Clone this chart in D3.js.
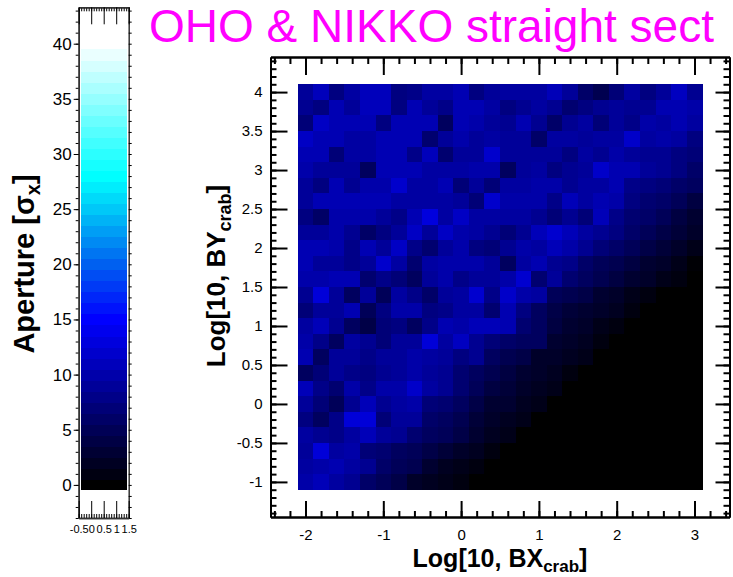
<!DOCTYPE html>
<html>
<head>
<meta charset="utf-8">
<script src="https://cdn.jsdelivr.net/npm/d3@7"></script>
<style>
  body { margin: 0; background: #fff; }
  svg { display: block; font-family: "Liberation Sans", Arial, sans-serif; }
</style>
</head>
<body>
<script>
// bin centres
var logBX = [-2.0, -1.8, -1.6, -1.4, -1.2, -1.0, -0.8, -0.6, -0.4, -0.2, 0.0, 0.2, 0.4,
             0.6, 0.8, 1.0, 1.2, 1.4, 1.6, 1.8, 2.0, 2.2, 2.4, 2.6, 2.8, 3.0];
var logBY = [4.0, 3.8, 3.6, 3.4, 3.2, 3.0, 2.8, 2.6, 2.4, 2.2, 2.0, 1.8, 1.6,
             1.4, 1.2, 1.0, 0.8, 0.6, 0.4, 0.2, 0.0, -0.2, -0.4, -0.6, -0.8, -1.0];

// aperture [sigma_x], one row per logBY (top to bottom), one column per logBX
var aperture = [
  [9, 11, 7.5, 9.5, 11, 11, 7.5, 8, 9.5, 9.5, 10.5, 7.5, 9, 9.4, 9.4, 9.4, 10.8, 9, 6.1, 4.7, 7, 9.4, 7.5, 9, 11.3, 8.5],
  [8.5, 7.5, 10.5, 9, 11, 11, 7.5, 10.5, 9, 8, 10.5, 10.5, 9.5, 7.5, 8.5, 9.4, 8.5, 6.6, 7.5, 8.5, 9, 8.5, 8.5, 10.4, 10.4, 9.9],
  [7, 11.5, 10.5, 10.5, 10.5, 7.5, 10.5, 10.5, 10.5, 5.5, 10.5, 10, 9, 8.5, 10.4, 8.5, 6.1, 8.5, 9.4, 7, 9, 8, 9.9, 9.4, 10.4, 9.4],
  [11.5, 10.5, 10.5, 9.5, 9.5, 10.5, 10.5, 10.5, 6.5, 9, 10, 9, 9.5, 9, 9, 6.1, 9.4, 9.4, 9, 9.4, 9.4, 11.8, 9.4, 9.9, 9.4, 7.5],
  [10.5, 10.5, 7, 9.5, 9.5, 10.5, 10.5, 8, 11, 6.5, 9, 9, 12, 9, 9, 9, 9, 7.5, 9.4, 8.5, 9.9, 9, 8.5, 8.5, 7.5, 7],
  [10, 9, 9, 9, 5.5, 10.5, 10.5, 10.5, 9.5, 9.5, 9.5, 10, 10, 5.6, 9, 9.4, 7.5, 8.5, 9, 11.8, 10.4, 10.4, 9, 8.5, 7.5, 6.1],
  [9, 7.5, 10.5, 8.5, 10, 10, 12, 9.5, 9.5, 10.5, 7, 9, 7, 9.4, 9.4, 9.9, 9.9, 8.5, 9.4, 9.4, 10.4, 8, 7.5, 7, 6.1, 5.6],
  [9, 10.5, 10.5, 10.5, 10.5, 10.5, 9.5, 9.5, 9.5, 9.5, 9, 7, 12, 9.9, 9.9, 9.9, 8, 10.8, 9.4, 10.4, 9.9, 7.5, 6.6, 6.1, 5.2, 3.8],
  [7.5, 6, 10, 10, 10, 9, 8, 10.5, 13, 9.5, 11.5, 9.5, 9.5, 9.4, 9.4, 8.5, 7, 8.5, 7, 10.8, 8, 6.6, 6.1, 5.2, 3.8, 2.8],
  [9, 9, 10, 8.5, 6, 7.5, 9, 11.5, 9, 11.5, 10, 9.5, 8.5, 7, 8.5, 10.8, 12.2, 10.8, 9.4, 8.5, 7.5, 6.1, 5.2, 4.2, 3.3, 2.4],
  [10.5, 10.5, 10, 8, 10.5, 9, 11.5, 8, 6.5, 9, 10, 7.5, 7, 8.5, 9.9, 9.4, 10.8, 9.9, 8.5, 7, 6.1, 5.2, 4.2, 3.3, 2.4, 1.4],
  [10.5, 9, 9, 8, 9, 12, 9.5, 6.5, 9.5, 10, 10, 10, 9, 5.6, 9.4, 10.4, 8.5, 8, 6.1, 5.2, 4.7, 3.8, 2.8, 2.4, 1.4, 0.3],
  [10, 10, 10.5, 10.5, 6.5, 8, 7, 5.5, 9, 10, 8, 9, 9, 9.9, 12.2, 6.6, 9, 6.6, 5.6, 4.7, 3.8, 2.8, 2.4, 1.4, 0.9, 0],
  [8.5, 12.7, 9, 5.6, 9, 5.2, 9.4, 8, 6.1, 9, 9.4, 12.2, 8, 11.8, 9.9, 9.4, 5.2, 4.7, 4.2, 2.8, 2.4, 1.4, 0.9, 0, 0, 0],
  [7, 9, 9, 10.4, 5.2, 7.5, 9.9, 9.9, 7.5, 8, 9.4, 9.4, 6.6, 10.4, 7.5, 5.6, 4.2, 3.3, 2.8, 2.4, 1.9, 0.9, 0, 0, 0, 0],
  [9.4, 10.8, 8.5, 5.6, 4.2, 7, 7.5, 5.6, 8, 10.4, 9.9, 10.8, 10.8, 10.4, 6.6, 5.6, 3.8, 2.8, 2.4, 1.4, 0.9, 0, 0, 0, 0, 0],
  [9.9, 8, 5.6, 9.4, 8.5, 7, 9, 9, 12.7, 9.4, 11.3, 8.5, 7, 6.1, 5.6, 5.6, 2.8, 2.4, 1.9, 0.9, 0, 0, 0, 0, 0, 0],
  [10.4, 5.6, 9, 9, 8, 9, 9, 9.9, 9.4, 9, 7.5, 8.5, 5.6, 4.7, 4.2, 2.4, 2.4, 1.9, 1.4, 0, 0, 0, 0, 0, 0, 0],
  [5.6, 7, 9, 8, 7.5, 8.5, 9, 9.9, 9, 8.5, 6.6, 5.6, 4.7, 3.8, 2.8, 2.4, 1.9, 0.9, 0, 0, 0, 0, 0, 0, 0, 0],
  [10.8, 8, 6.6, 9.9, 8, 9.9, 9.9, 11.8, 9.4, 8.5, 6.6, 5.2, 3.8, 3.3, 2.4, 1.9, 1.4, 0, 0, 0, 0, 0, 0, 0, 0, 0],
  [9, 7, 5.2, 8.5, 10.8, 8.5, 9.4, 9.9, 7, 6.6, 5.6, 4.2, 2.8, 2.8, 1.9, 1.4, 0, 0, 0, 0, 0, 0, 0, 0, 0, 0],
  [7.5, 5.6, 8, 12.7, 12.7, 7, 9, 9, 6.1, 5.6, 4.7, 3.3, 2.4, 1.9, 1.4, 0, 0, 0, 0, 0, 0, 0, 0, 0, 0, 0],
  [9.4, 8.5, 8, 9.4, 10.8, 9, 8.5, 6.6, 5.6, 5.2, 4.2, 2.8, 1.9, 1.4, 0, 0, 0, 0, 0, 0, 0, 0, 0, 0, 0, 0],
  [9, 12.7, 9.4, 9.9, 7, 6.6, 5.6, 5.2, 4.2, 3.3, 2.4, 1.9, 0.9, 0, 0, 0, 0, 0, 0, 0, 0, 0, 0, 0, 0, 0],
  [9.4, 9.9, 10.4, 9.4, 8.5, 6.1, 5.2, 4.7, 2.8, 1.9, 1.4, 0.9, 0, 0, 0, 0, 0, 0, 0, 0, 0, 0, 0, 0, 0, 0],
  [9.9, 10.8, 9.4, 8.5, 6.1, 5.2, 4.2, 2.4, 1.9, 1.4, 0.9, 0, 0, 0, 0, 0, 0, 0, 0, 0, 0, 0, 0, 0, 0, 0]
];

// tick values
var xMajor = [-2, -1, 0, 1, 2, 3];
var yMajor = [-1, -0.5, 0, 0.5, 1, 1.5, 2, 2.5, 3, 3.5, 4];
var cbMajor = [0, 5, 10, 15, 20, 25, 30, 35, 40];
var cbXMajor = [-0.5, 0, 0.5, 1, 1.5];

var W = 733, H = 577;
var binW = 0.2;

var svg = d3.select("body")
    .append("svg")
    .attr("width", W)
    .attr("height", H);

svg.append("rect").attr("width", W).attr("height", H).attr("fill", "#fff");

var color = d3.scaleLinear()
    .domain([0, 15, 20, 25, 28, 40])
    .range(["#000000", "#0000ff", "#0060f0", "#00c8f8", "#00ffff", "#ffffff"])
    .clamp(true);

// ---- main plot ----
var x = d3.scaleLinear().domain([-2.45, 3.45]).range([270.5, 729.5]);
var y = d3.scaleLinear().domain([-1.45, 4.45]).range([517, 57]);

var cells = [];
aperture.forEach(function (row, i) {
    row.forEach(function (v, j) {
        cells.push({bx: logBX[j], by: logBY[i], v: v});
    });
});

svg.append("g")
    .selectAll("rect")
    .data(cells)
    .enter()
    .append("rect")
    .attr("x", d => x(d.bx - binW / 2))
    .attr("y", d => y(d.by + binW / 2))
    .attr("width", d => x(d.bx + binW / 2) - x(d.bx - binW / 2) + 0.5)
    .attr("height", d => y(d.by - binW / 2) - y(d.by + binW / 2) + 0.5)
    .attr("fill", d => color(d.v))
    .attr("shape-rendering", "crispEdges");

function minorTicks(lo, hi, step) {
    var out = [];
    for (var k = Math.round(lo / step); k * step <= hi + 1e-9; k++) out.push(+(k * step).toFixed(3));
    return out;
}
var xMinor = minorTicks(-2.4, 3.4, 0.2);
var yMinor = minorTicks(-1.4, 4.4, 0.1);

function styleAxis(g, fontSize) {
    g.selectAll(".domain").attr("stroke", "#000").attr("stroke-width", 2);
    g.selectAll(".tick line").attr("stroke", "#000").attr("stroke-width", 2);
    g.selectAll("text").attr("font-size", fontSize).attr("fill", "#000")
        .attr("font-family", "Liberation Sans, Arial, sans-serif");
}

// bottom
svg.append("g").attr("transform", "translate(0,517)")
    .call(d3.axisBottom(x).tickValues(xMinor).tickSizeInner(-6).tickSizeOuter(0).tickFormat(""))
    .call(g => styleAxis(g, 15));
svg.append("g").attr("transform", "translate(0,517)")
    .call(d3.axisBottom(x).tickValues(xMajor).tickSizeInner(-16).tickSizeOuter(0).tickPadding(12).tickFormat(d => String(d)))
    .call(g => styleAxis(g, 15));
// top
svg.append("g").attr("transform", "translate(0,57)")
    .call(d3.axisTop(x).tickValues(xMinor).tickSizeInner(-7).tickSizeOuter(0).tickFormat(""))
    .call(g => styleAxis(g, 15));
svg.append("g").attr("transform", "translate(0,57)")
    .call(d3.axisTop(x).tickValues(xMajor).tickSizeInner(-18).tickSizeOuter(0).tickFormat(""))
    .call(g => styleAxis(g, 15));
// left
svg.append("g").attr("transform", "translate(270.5,0)")
    .call(d3.axisLeft(y).tickValues(yMinor).tickSizeInner(-6).tickSizeOuter(0).tickFormat(""))
    .call(g => styleAxis(g, 15));
svg.append("g").attr("transform", "translate(270.5,0)")
    .call(d3.axisLeft(y).tickValues(yMajor).tickSizeInner(-17).tickSizeOuter(0).tickPadding(8).tickFormat(d => String(d)))
    .call(g => styleAxis(g, 15));
// right
svg.append("g").attr("transform", "translate(729.5,0)")
    .call(d3.axisRight(y).tickValues(yMinor).tickSizeInner(-6).tickSizeOuter(0).tickFormat(""))
    .call(g => styleAxis(g, 15));
svg.append("g").attr("transform", "translate(729.5,0)")
    .call(d3.axisRight(y).tickValues(yMajor).tickSizeInner(-14).tickSizeOuter(0).tickFormat(""))
    .call(g => styleAxis(g, 15));

// axis titles
var xt = svg.append("text")
    .attr("x", 500).attr("y", 567)
    .attr("text-anchor", "middle")
    .attr("font-size", 25).attr("font-weight", "bold");
xt.append("tspan").text("Log[10, BX");
xt.append("tspan").attr("font-size", 17).attr("dy", 5).text("crab");
xt.append("tspan").attr("dy", -5).text("]");

var yt = svg.append("text")
    .attr("transform", "translate(225,276) rotate(-90)")
    .attr("text-anchor", "middle")
    .attr("font-size", 26).attr("font-weight", "bold");
yt.append("tspan").text("Log[10, BY");
yt.append("tspan").attr("font-size", 18).attr("dy", 6).text("crab");
yt.append("tspan").attr("dy", -6).text("]");

// ---- colour bar ----
var cbLevels = d3.range(0, 40);
var cy = d3.scaleLinear().domain([-3, 43.3]).range([518, 7.3]);
var cx = d3.scaleLinear().domain([-0.5, 1.5]).range([78.7, 128.7]);

svg.append("g")
    .selectAll("rect")
    .data(cbLevels)
    .enter()
    .append("rect")
    .attr("x", 81)
    .attr("width", 46)
    .attr("y", d => cy(Math.min(d + 0.5, 39.5)))
    .attr("height", d => cy(Math.max(d - 0.5, -0.4)) - cy(Math.min(d + 0.5, 39.5)) + 0.5)
    .attr("fill", d => color(d))
    .attr("shape-rendering", "crispEdges");

var cbMinor = minorTicks(-3, 43, 1);
var cbXMinor = minorTicks(-0.5, 1.5, 0.1);

function styleCb(g) {
    g.selectAll(".domain").attr("stroke", "#333").attr("stroke-width", 1.5);
    g.selectAll(".tick line").attr("stroke", "#000").attr("stroke-width", 1);
    g.selectAll("text").attr("fill", "#000");
}

svg.append("g").attr("transform", "translate(78.7,0)")
    .call(d3.axisLeft(cy).tickValues(cbMinor).tickSizeInner(3).tickSizeOuter(0).tickFormat(""))
    .call(styleCb);
svg.append("g").attr("transform", "translate(78.7,0)")
    .call(d3.axisLeft(cy).tickValues(cbMajor).tickSizeInner(5).tickSizeOuter(0).tickPadding(2).tickFormat(d3.format("d")))
    .call(styleCb)
    .call(g => g.selectAll("text").attr("font-size", 17));
svg.append("g").attr("transform", "translate(128.7,0)")
    .call(d3.axisRight(cy).tickValues(cbMinor).tickSizeInner(3).tickSizeOuter(0).tickFormat(""))
    .call(styleCb);

svg.append("g").attr("transform", "translate(0,7.3)")
    .call(d3.axisTop(cx).tickValues(cbXMinor).tickSizeInner(-4).tickSizeOuter(0).tickFormat(""))
    .call(styleCb);
svg.append("g").attr("transform", "translate(0,7.3)")
    .call(d3.axisTop(cx).tickValues(cbXMajor).tickSizeInner(-17).tickSizeOuter(0).tickFormat(""))
    .call(styleCb);
svg.append("g").attr("transform", "translate(0,518)")
    .call(d3.axisBottom(cx).tickValues(cbXMinor).tickSizeInner(-4).tickSizeOuter(0).tickFormat(""))
    .call(styleCb);
svg.append("g").attr("transform", "translate(0,518)")
    .call(d3.axisBottom(cx).tickValues(cbXMajor).tickSizeInner(-17).tickSizeOuter(0).tickPadding(7).tickFormat(d => String(d)))
    .call(styleCb)
    .call(g => g.selectAll("text").attr("font-size", 11));

var ct = svg.append("text")
    .attr("transform", "translate(34,264) rotate(-90)")
    .attr("text-anchor", "middle")
    .attr("font-size", 29).attr("font-weight", "bold");
ct.append("tspan").text("Aperture [σ");
ct.append("tspan").attr("font-size", 20).attr("dy", 6).text("x");
ct.append("tspan").attr("dy", -6).text("]");

// title
svg.append("text")
    .attr("x", 149).attr("y", 42)
    .attr("font-size", 46)
    .attr("fill", "#ff00ff")
    .text("OHO & NIKKO straight sect");
</script>
</body>
</html>
